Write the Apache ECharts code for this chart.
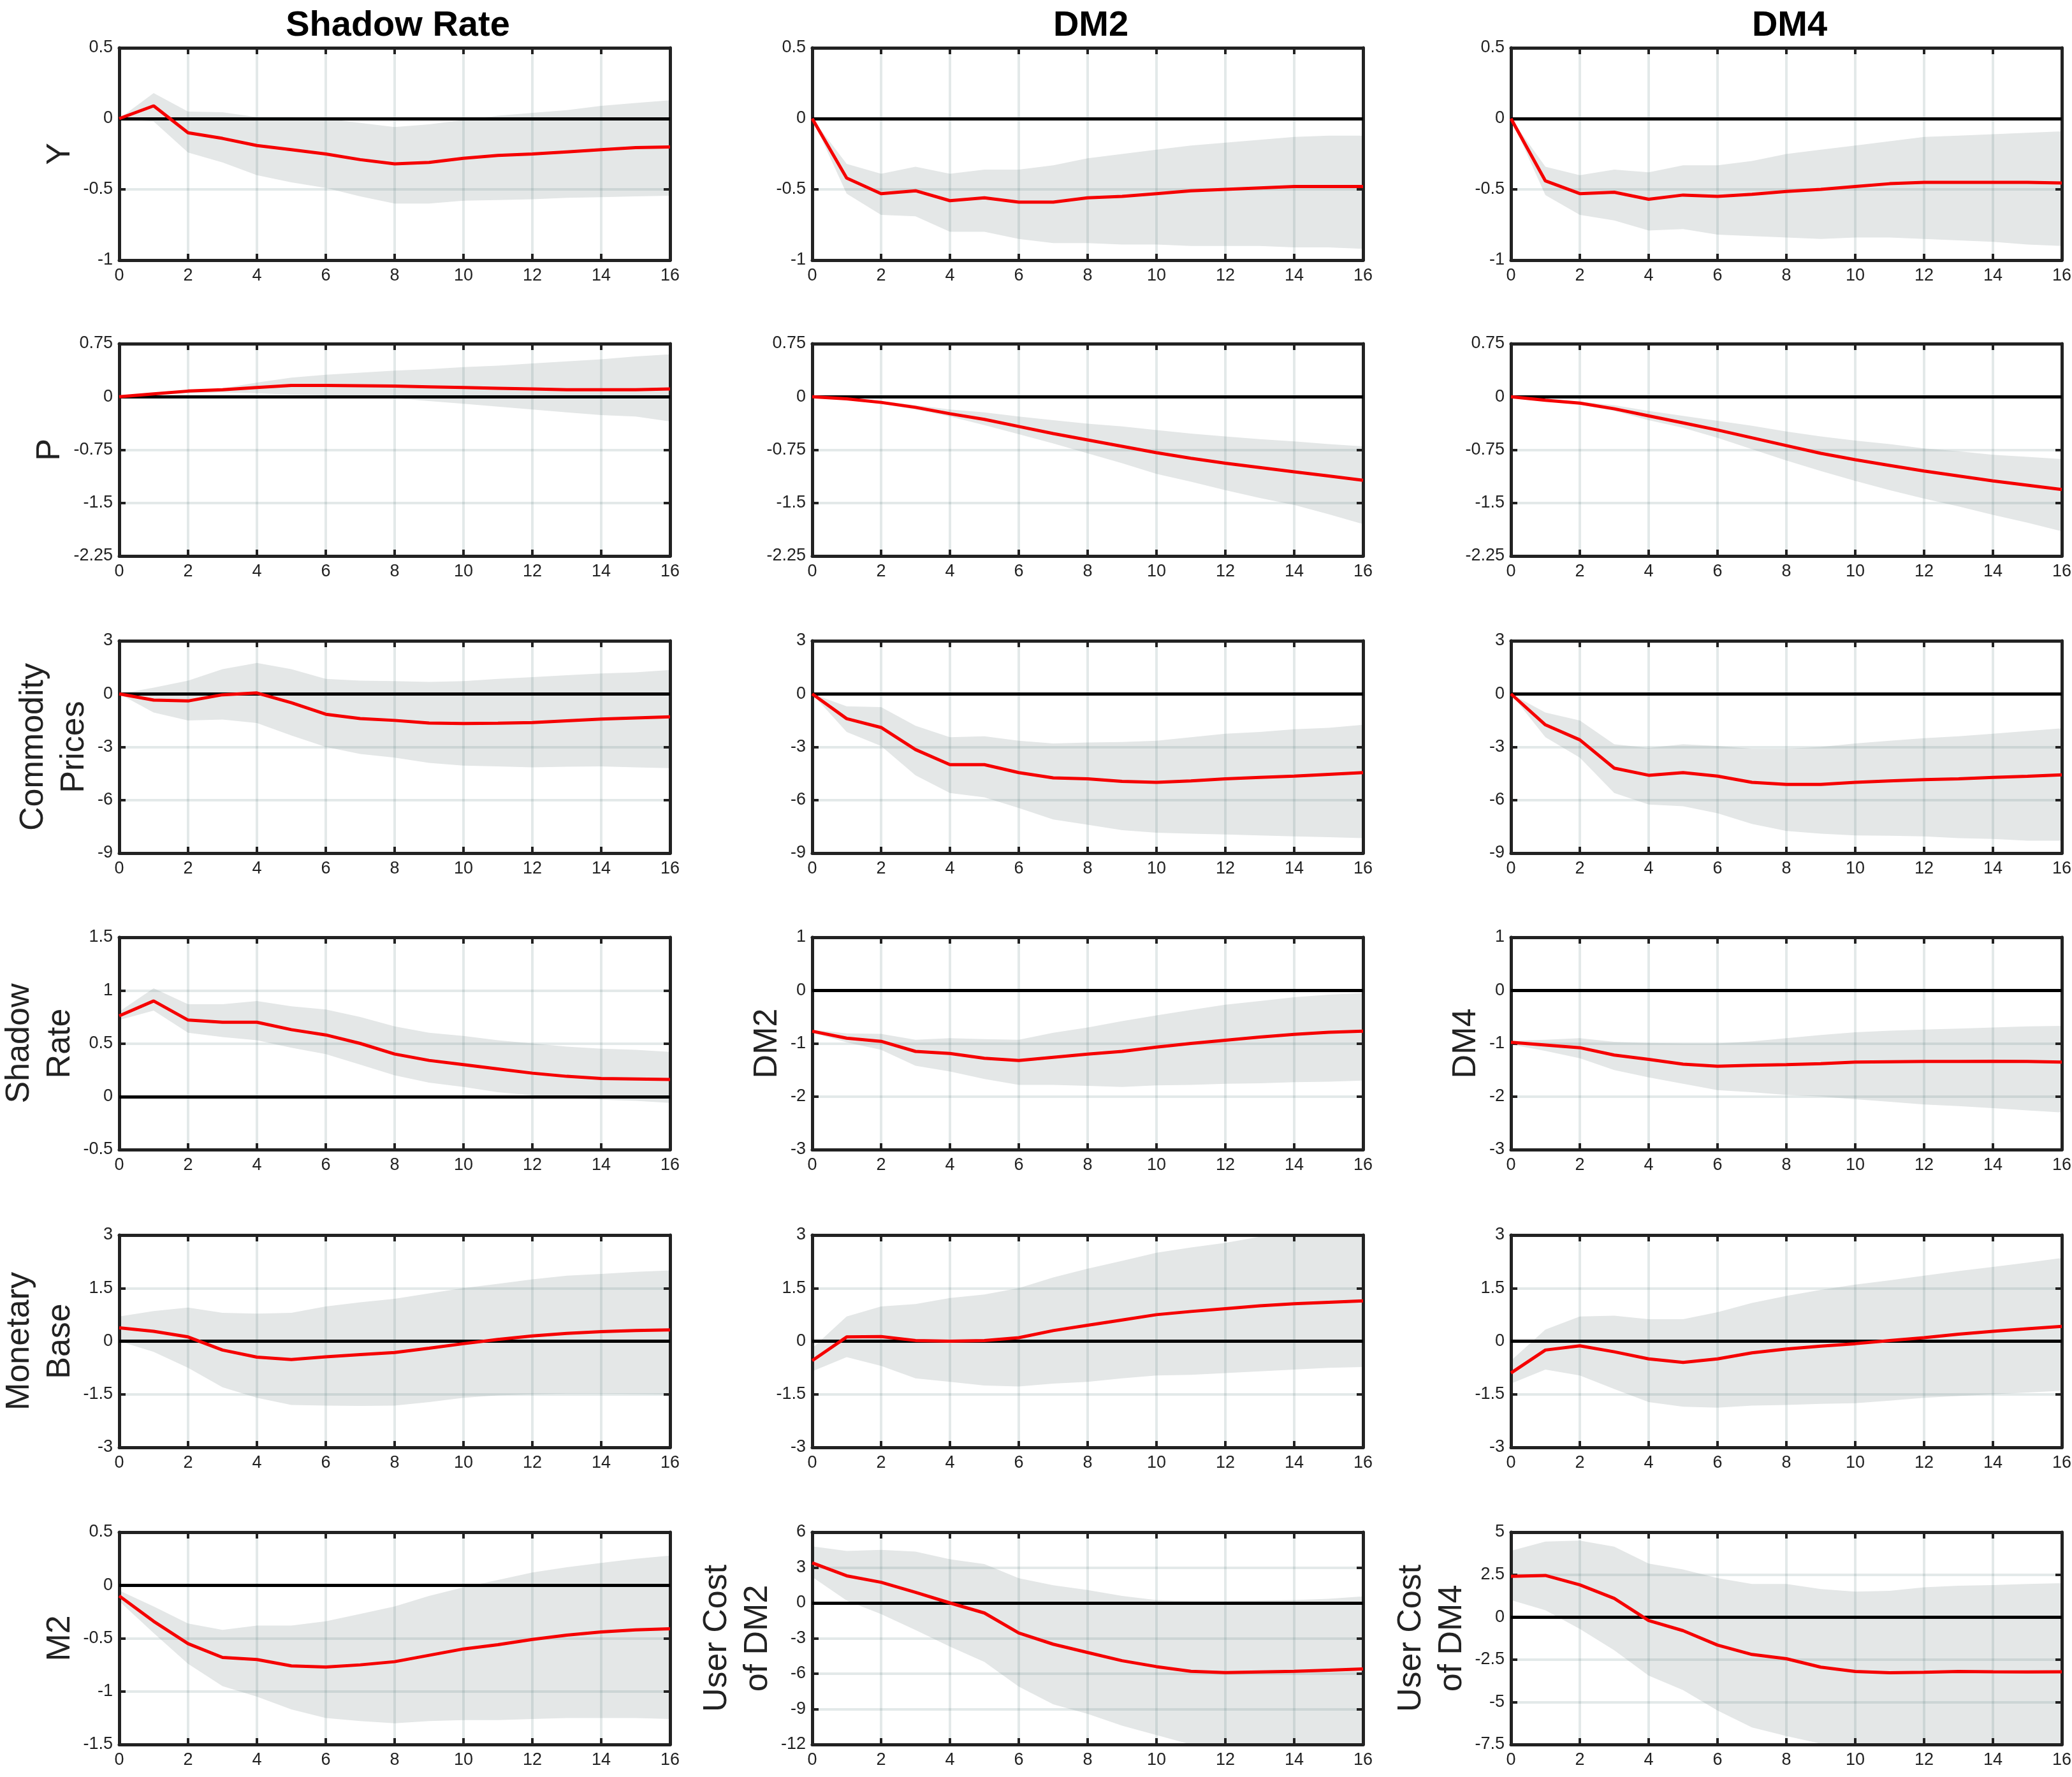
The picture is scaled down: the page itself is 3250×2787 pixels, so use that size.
<!DOCTYPE html>
<html>
<head>
<meta charset="utf-8">
<title>Impulse responses</title>
<script src="https://cdn.jsdelivr.net/npm/echarts@6.0.0/dist/echarts.min.js"></script>
<style>
  html, body { margin: 0; padding: 0; background: #fff; }
  #chart { width: 3250px; height: 2787px; }
</style>
</head>
<body>
<div id="chart"></div>
<script>
// horizons on the x axis
const horizons = [0, 1, 2, 3, 4, 5, 6, 7, 8, 9, 10, 11, 12, 13, 14, 15, 16];
const xTicks = { min: 0, max: 16, interval: 2 };
const colTitles = ['Shadow Rate', 'DM2', 'DM4'];

// ---- Shadow Rate column ----
const Y_SR_med = [0, 0.09, -0.1, -0.14, -0.19, -0.22, -0.25, -0.29, -0.32, -0.31, -0.28, -0.26, -0.25, -0.235, -0.22, -0.205, -0.2];
const Y_SR_lo = [0, -0.02, -0.24, -0.31, -0.4, -0.45, -0.49, -0.55, -0.6, -0.6, -0.58, -0.575, -0.57, -0.56, -0.555, -0.55, -0.545];
const Y_SR_hi = [0, 0.18, 0.05, 0.045, 0.01, 0.01, 0, -0.03, -0.06, -0.04, -0.01, 0.02, 0.04, 0.06, 0.09, 0.11, 0.13];

const P_SR_med = [0, 0.04, 0.08, 0.1, 0.13, 0.16, 0.16, 0.155, 0.15, 0.14, 0.13, 0.12, 0.11, 0.1, 0.1, 0.1, 0.11];
const P_SR_lo = [0, 0.02, 0.05, 0.06, 0.05, 0.03, 0.02, 0.01, -0.02, -0.06, -0.1, -0.14, -0.18, -0.22, -0.26, -0.28, -0.35];
const P_SR_hi = [0, 0.05, 0.09, 0.12, 0.2, 0.27, 0.31, 0.34, 0.37, 0.39, 0.42, 0.44, 0.47, 0.5, 0.53, 0.57, 0.6];

const CP_SR_med = [0, -0.35, -0.4, -0.05, 0.05, -0.5, -1.15, -1.4, -1.5, -1.65, -1.68, -1.66, -1.62, -1.52, -1.42, -1.36, -1.3];
const CP_SR_lo = [0, -1.05, -1.5, -1.45, -1.65, -2.35, -3.0, -3.4, -3.6, -3.9, -4.05, -4.1, -4.15, -4.12, -4.1, -4.15, -4.2];
const CP_SR_hi = [0, 0.35, 0.75, 1.4, 1.75, 1.4, 0.85, 0.75, 0.72, 0.68, 0.72, 0.85, 0.95, 1.05, 1.15, 1.22, 1.35];

const SR_SR_med = [0.76, 0.9, 0.72, 0.7, 0.7, 0.63, 0.58, 0.5, 0.4, 0.34, 0.3, 0.26, 0.22, 0.19, 0.17, 0.165, 0.16];
const SR_SR_lo = [0.72, 0.81, 0.6, 0.56, 0.53, 0.46, 0.4, 0.3, 0.2, 0.13, 0.09, 0.04, 0.01, -0.01, -0.03, -0.04, -0.06];
const SR_SR_hi = [0.8, 1.02, 0.87, 0.87, 0.9, 0.85, 0.82, 0.75, 0.66, 0.6, 0.57, 0.53, 0.5, 0.47, 0.45, 0.44, 0.42];

const MB_SR_med = [0.38, 0.28, 0.12, -0.25, -0.45, -0.52, -0.44, -0.38, -0.32, -0.2, -0.07, 0.05, 0.15, 0.22, 0.27, 0.3, 0.32];
const MB_SR_lo = [0, -0.3, -0.75, -1.3, -1.6, -1.8, -1.82, -1.83, -1.82, -1.72, -1.6, -1.53, -1.5, -1.48, -1.48, -1.49, -1.5];
const MB_SR_hi = [0.7, 0.85, 0.95, 0.8, 0.78, 0.8, 0.98, 1.1, 1.2, 1.35, 1.5, 1.62, 1.75, 1.85, 1.9, 1.96, 2.0];

const M2_SR_med = [-0.1, -0.34, -0.55, -0.68, -0.7, -0.76, -0.77, -0.75, -0.72, -0.66, -0.6, -0.56, -0.51, -0.47, -0.44, -0.42, -0.41];
const M2_SR_lo = [-0.15, -0.45, -0.74, -0.95, -1.05, -1.17, -1.25, -1.28, -1.3, -1.28, -1.27, -1.27, -1.26, -1.25, -1.25, -1.25, -1.26];
const M2_SR_hi = [-0.05, -0.2, -0.36, -0.42, -0.38, -0.38, -0.34, -0.27, -0.2, -0.1, -0.02, 0.05, 0.12, 0.17, 0.21, 0.25, 0.28];

// ---- DM2 column ----
const Y_D2_med = [0, -0.42, -0.53, -0.51, -0.58, -0.56, -0.59, -0.59, -0.56, -0.55, -0.53, -0.51, -0.5, -0.49, -0.48, -0.48, -0.48];
const Y_D2_lo = [0, -0.53, -0.68, -0.69, -0.8, -0.8, -0.85, -0.88, -0.88, -0.89, -0.89, -0.9, -0.9, -0.9, -0.91, -0.91, -0.92];
const Y_D2_hi = [0, -0.32, -0.39, -0.34, -0.39, -0.36, -0.36, -0.33, -0.28, -0.25, -0.22, -0.19, -0.17, -0.15, -0.13, -0.12, -0.12];

const P_D2_med = [0, -0.03, -0.08, -0.15, -0.24, -0.32, -0.42, -0.52, -0.61, -0.7, -0.79, -0.87, -0.94, -1.0, -1.06, -1.12, -1.18];
const P_D2_lo = [0, -0.04, -0.1, -0.18, -0.28, -0.4, -0.53, -0.66, -0.8, -0.94, -1.09, -1.2, -1.32, -1.43, -1.53, -1.66, -1.8];
const P_D2_hi = [0, -0.02, -0.06, -0.12, -0.18, -0.22, -0.28, -0.33, -0.38, -0.42, -0.47, -0.52, -0.56, -0.6, -0.63, -0.67, -0.7];

const CP_D2_med = [0, -1.4, -1.9, -3.15, -4.0, -4.0, -4.45, -4.75, -4.8, -4.95, -5.0, -4.92, -4.8, -4.72, -4.65, -4.55, -4.45];
const CP_D2_lo = [0, -2.15, -2.95, -4.6, -5.6, -5.85, -6.45, -7.1, -7.4, -7.7, -7.85, -7.9, -7.95, -8.0, -8.05, -8.1, -8.15];
const CP_D2_hi = [0, -0.7, -0.75, -1.8, -2.45, -2.4, -2.65, -2.8, -2.75, -2.72, -2.65, -2.45, -2.25, -2.15, -2.0, -1.92, -1.75];

const D2_D2_med = [-0.77, -0.9, -0.96, -1.15, -1.19, -1.28, -1.32, -1.26, -1.2, -1.15, -1.07, -1.0, -0.94, -0.88, -0.83, -0.79, -0.77];
const D2_D2_lo = [-0.8, -0.98, -1.12, -1.42, -1.53, -1.67, -1.78, -1.78, -1.8, -1.82, -1.79, -1.78, -1.76, -1.75, -1.73, -1.72, -1.7];
const D2_D2_hi = [-0.74, -0.81, -0.82, -0.93, -0.9, -0.92, -0.93, -0.8, -0.7, -0.58, -0.47, -0.37, -0.27, -0.2, -0.13, -0.08, -0.05];

const MB_D2_med = [-0.55, 0.12, 0.13, 0.02, 0, 0.02, 0.1, 0.3, 0.45, 0.6, 0.75, 0.84, 0.92, 1.0, 1.06, 1.1, 1.14];
const MB_D2_lo = [-0.85, -0.45, -0.7, -1.05, -1.15, -1.25, -1.28, -1.2, -1.15, -1.05, -0.97, -0.95, -0.9, -0.85, -0.8, -0.75, -0.73];
const MB_D2_hi = [-0.2, 0.7, 0.98, 1.05, 1.22, 1.32, 1.5, 1.8, 2.05, 2.27, 2.5, 2.65, 2.78, 2.95, 3.05, 3.1, 3.15];

const UC_D2_med = [3.4, 2.3, 1.75, 0.9, 0, -0.85, -2.55, -3.5, -4.2, -4.9, -5.4, -5.8, -5.9, -5.85, -5.8, -5.7, -5.6];
const UC_D2_lo = [2.2, 0.2, -0.95, -2.3, -3.7, -5.0, -7.1, -8.6, -9.4, -10.4, -11.2, -12, -12.3, -12.5, -12.5, -12.6, -12.6];
const UC_D2_hi = [4.8, 4.4, 4.5, 4.35, 3.7, 3.3, 2.1, 1.5, 1.1, 0.6, 0.25, 0.15, 0.15, 0.2, 0.25, 0.35, 0.55];

// ---- DM4 column ----
const Y_D4_med = [0, -0.44, -0.53, -0.52, -0.57, -0.54, -0.55, -0.535, -0.515, -0.5, -0.48, -0.46, -0.45, -0.45, -0.45, -0.45, -0.455];
const Y_D4_lo = [0, -0.54, -0.68, -0.72, -0.79, -0.78, -0.82, -0.83, -0.84, -0.85, -0.84, -0.84, -0.85, -0.86, -0.87, -0.89, -0.9];
const Y_D4_hi = [0, -0.34, -0.4, -0.36, -0.38, -0.33, -0.33, -0.3, -0.25, -0.22, -0.19, -0.16, -0.13, -0.12, -0.11, -0.1, -0.09];

const P_D4_med = [0, -0.05, -0.09, -0.17, -0.27, -0.37, -0.47, -0.58, -0.69, -0.8, -0.89, -0.97, -1.05, -1.12, -1.19, -1.25, -1.31];
const P_D4_lo = [0, -0.05, -0.11, -0.2, -0.33, -0.44, -0.58, -0.74, -0.9, -1.05, -1.19, -1.32, -1.44, -1.55, -1.67, -1.78, -1.9];
const P_D4_hi = [0, -0.04, -0.07, -0.12, -0.2, -0.27, -0.34, -0.41, -0.49, -0.56, -0.62, -0.67, -0.73, -0.77, -0.82, -0.85, -0.88];

const CP_D4_med = [0, -1.75, -2.6, -4.2, -4.6, -4.45, -4.65, -5.0, -5.12, -5.12, -5.0, -4.92, -4.85, -4.8, -4.72, -4.66, -4.58];
const CP_D4_lo = [0, -2.45, -3.6, -5.6, -6.25, -6.35, -6.75, -7.35, -7.75, -7.9, -8.0, -8.02, -8.05, -8.15, -8.2, -8.3, -8.3];
const CP_D4_hi = [0, -1.05, -1.5, -2.85, -3.05, -2.85, -2.95, -3.1, -3.1, -3.0, -2.8, -2.65, -2.5, -2.4, -2.25, -2.1, -1.95];

const D4_D4_med = [-0.98, -1.03, -1.08, -1.22, -1.3, -1.39, -1.43, -1.41, -1.4, -1.38, -1.35, -1.345, -1.34, -1.34, -1.335, -1.34, -1.35];
const D4_D4_lo = [-1.02, -1.14, -1.28, -1.5, -1.64, -1.76, -1.88, -1.92, -1.97, -2.0, -2.05, -2.1, -2.15, -2.18, -2.22, -2.26, -2.3];
const D4_D4_hi = [-0.95, -0.93, -0.9, -0.97, -0.99, -1.0, -1.0, -0.96, -0.9, -0.84, -0.79, -0.76, -0.74, -0.72, -0.7, -0.68, -0.67];

const MB_D4_med = [-0.9, -0.25, -0.13, -0.3, -0.5, -0.6, -0.5, -0.33, -0.22, -0.14, -0.07, 0.02, 0.1, 0.2, 0.28, 0.35, 0.42];
const MB_D4_lo = [-1.2, -0.8, -0.97, -1.35, -1.72, -1.85, -1.88, -1.82, -1.8, -1.77, -1.75, -1.68, -1.6, -1.55, -1.5, -1.45, -1.4];
const MB_D4_hi = [-0.55, 0.33, 0.7, 0.72, 0.62, 0.62, 0.82, 1.08, 1.28, 1.45, 1.6, 1.72, 1.85, 1.98, 2.1, 2.22, 2.35];

const UC_D4_med = [2.4, 2.45, 1.9, 1.1, -0.2, -0.8, -1.65, -2.2, -2.45, -2.95, -3.2, -3.28, -3.25, -3.2, -3.22, -3.23, -3.22];
const UC_D4_lo = [1.0, 0.4, -0.7, -1.95, -3.45, -4.3, -5.5, -6.5, -7.0, -7.45, -7.7, -7.8, -7.85, -7.85, -7.9, -7.9, -7.9];
const UC_D4_hi = [3.9, 4.45, 4.5, 4.15, 3.15, 2.8, 2.3, 1.95, 1.95, 1.65, 1.5, 1.55, 1.75, 1.85, 1.88, 1.95, 2.0];

// y-axis ranges per row and column: [min, max, interval]
const yRanges = [
  [[-1, 0.5, 0.5], [-1, 0.5, 0.5], [-1, 0.5, 0.5]],
  [[-2.25, 0.75, 0.75], [-2.25, 0.75, 0.75], [-2.25, 0.75, 0.75]],
  [[-9, 3, 3], [-9, 3, 3], [-9, 3, 3]],
  [[-0.5, 1.5, 0.5], [-3, 1, 1], [-3, 1, 1]],
  [[-3, 3, 1.5], [-3, 3, 1.5], [-3, 3, 1.5]],
  [[-1.5, 0.5, 0.5], [-12, 6, 3], [-7.5, 5, 2.5]]
];

// y-axis labels per row and column
const yLabels = [
  ['Y', '', ''],
  ['P', '', ''],
  ['Commodity\nPrices', '', ''],
  ['Shadow\nRate', 'DM2', 'DM4'],
  ['Monetary\nBase', '', ''],
  ['M2', 'User Cost\nof DM2', 'User Cost\nof DM4']
];

const panels = [
  [[Y_SR_med, Y_SR_lo, Y_SR_hi], [Y_D2_med, Y_D2_lo, Y_D2_hi], [Y_D4_med, Y_D4_lo, Y_D4_hi]],
  [[P_SR_med, P_SR_lo, P_SR_hi], [P_D2_med, P_D2_lo, P_D2_hi], [P_D4_med, P_D4_lo, P_D4_hi]],
  [[CP_SR_med, CP_SR_lo, CP_SR_hi], [CP_D2_med, CP_D2_lo, CP_D2_hi], [CP_D4_med, CP_D4_lo, CP_D4_hi]],
  [[SR_SR_med, SR_SR_lo, SR_SR_hi], [D2_D2_med, D2_D2_lo, D2_D2_hi], [D4_D4_med, D4_D4_lo, D4_D4_hi]],
  [[MB_SR_med, MB_SR_lo, MB_SR_hi], [MB_D2_med, MB_D2_lo, MB_D2_hi], [MB_D4_med, MB_D4_lo, MB_D4_hi]],
  [[M2_SR_med, M2_SR_lo, M2_SR_hi], [UC_D2_med, UC_D2_lo, UC_D2_hi], [UC_D4_med, UC_D4_lo, UC_D4_hi]]
];

// layout
const colLeft = [187, 1274, 2370];
const rowTop = [75, 539, 1005, 1470, 1937, 2403];
const plotW = 864;
const plotH = 333;
// distance of each y label from its axis
const nameGaps = [
  [58, 0, 0],
  [76, 0, 0],
  [34, 0, 0],
  [55, 32, 34],
  [55, 0, 0],
  [55, 50, 55]
];

const FONT = '"Liberation Sans", Arial, Helvetica, sans-serif';
const INK = '#222';
const BAND = '#e4e7e7';
const RED = '#f50000';
const GRIDLINE = 'rgba(90,125,125,0.17)';

// shaded band: one polygon through the upper bound and back along the lower bound
function bandRenderer(lo, hi) {
  return function (params, api) {
    if (params.dataIndex !== 0) return;
    const pts = [];
    for (let i = 0; i < horizons.length; i++) pts.push(api.coord([horizons[i], hi[i]]));
    for (let i = horizons.length - 1; i >= 0; i--) pts.push(api.coord([horizons[i], lo[i]]));
    return {
      type: 'polygon',
      shape: { points: pts },
      style: { fill: BAND, stroke: null }
    };
  };
}

const grid = [], xAxis = [], yAxis = [], series = [], title = [];

colTitles.forEach((t, c) => {
  title.push({
    text: t,
    left: colLeft[c] + plotW / 2,
    top: 8,
    textAlign: 'center',
    textStyle: { fontFamily: FONT, fontSize: 56, fontWeight: 'bold', color: '#000' }
  });
});

let g = 0;
for (let r = 0; r < 6; r++) {
  for (let c = 0; c < 3; c++) {
    const [ymin, ymax, yint] = yRanges[r][c];
    const [med, lo, hi] = panels[r][c];
    grid.push({ left: colLeft[c], top: rowTop[r], width: plotW, height: plotH, outerBoundsMode: 'none' });

    // bottom axis with labels and vertical grid lines
    xAxis.push({
      type: 'value', gridIndex: g, position: 'bottom', z: 3,
      min: xTicks.min, max: xTicks.max, interval: xTicks.interval,
      axisLine: { show: true, onZero: false, lineStyle: { color: INK, width: 5 } },
      axisTick: { show: true, inside: true, length: 10, lineStyle: { color: INK, width: 4 } },
      axisLabel: { show: true, margin: 11, fontFamily: FONT, fontSize: 27, color: INK },
      splitLine: { show: true, lineStyle: { color: GRIDLINE, width: 4 } }
    });
    // top axis: box edge and ticks only
    xAxis.push({
      type: 'value', gridIndex: g, position: 'top', z: 3,
      min: xTicks.min, max: xTicks.max, interval: xTicks.interval,
      axisLine: { show: true, onZero: false, lineStyle: { color: INK, width: 5 } },
      axisTick: { show: true, inside: true, length: 10, lineStyle: { color: INK, width: 4 } },
      axisLabel: { show: false },
      splitLine: { show: false }
    });
    yAxis.push({
      type: 'value', gridIndex: g, position: 'left', z: 3,
      min: ymin, max: ymax, interval: yint,
      name: yLabels[r][c], nameLocation: 'middle', nameGap: nameGaps[r][c],
      nameTextStyle: { fontFamily: FONT, fontSize: 52, lineHeight: 64, color: INK },
      axisLine: { show: true, onZero: false, lineStyle: { color: INK, width: 5 } },
      axisTick: { show: true, inside: true, length: 10, lineStyle: { color: INK, width: 4 } },
      axisLabel: { show: true, margin: 10, fontFamily: FONT, fontSize: 27, color: INK },
      splitLine: { show: true, lineStyle: { color: GRIDLINE, width: 4 } }
    });
    yAxis.push({
      type: 'value', gridIndex: g, position: 'right', z: 3,
      min: ymin, max: ymax, interval: yint,
      axisLine: { show: true, onZero: false, lineStyle: { color: INK, width: 5 } },
      axisTick: { show: true, inside: true, length: 10, lineStyle: { color: INK, width: 4 } },
      axisLabel: { show: false },
      splitLine: { show: false }
    });

    const xi = 2 * g, yi = 2 * g;
    // 68% band between lower and upper bound
    series.push({
      type: 'custom', xAxisIndex: xi, yAxisIndex: yi,
      data: horizons.map((h, i) => [h, lo[i], hi[i]]),
      encode: { x: 0, y: [1, 2] },
      renderItem: bandRenderer(lo, hi),
      clip: true, silent: true, z: 1,
      markLine: {
        silent: true, symbol: 'none', z: 5,
        label: { show: false },
        lineStyle: { color: '#000', width: 5, type: 'solid' },
        data: [{ yAxis: 0 }]
      }
    });
    // median response
    series.push({
      type: 'line', xAxisIndex: xi, yAxisIndex: yi,
      data: horizons.map((h, i) => [h, med[i]]),
      symbol: 'none', silent: true, z: 6,
      lineStyle: { color: RED, width: 5 }
    });
    g++;
  }
}

const chart = echarts.init(document.getElementById('chart'), null, { renderer: 'canvas' });
chart.setOption({
  animation: false,
  backgroundColor: '#fff',
  title: title,
  grid: grid,
  xAxis: xAxis,
  yAxis: yAxis,
  series: series
});
</script>
</body>
</html>
